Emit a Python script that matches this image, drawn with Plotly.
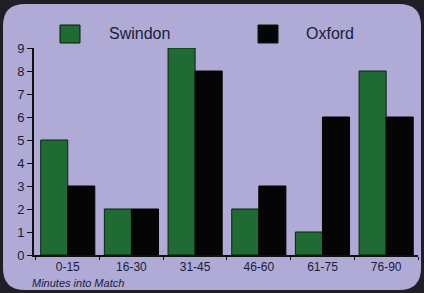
import plotly.graph_objects as go

categories = ["0-15", "16-30", "31-45", "46-60", "61-75", "76-90"]
swindon = [5, 2, 9, 2, 1, 8]
oxford = [3, 2, 8, 3, 6, 6]
y_ticks = list(range(0, 10))

W_PX, H_PX = 424, 293
L, R, T, B = 34, 6, 48, 38
PW = W_PX - L - R
PH = H_PX - T - B

def px(x):
    return (x - L) / PW

def py(y):
    return (H_PX - B - y) / PH

GREEN = "#1f6b33"
BLACK = "#050505"
TEXT = "#1b1c3a"
PANEL = "#afaad6"
DARK = "#211f26"

fig = go.Figure()
fig.add_trace(go.Bar(x=categories, y=swindon, name="Swindon",
                     marker=dict(color=GREEN, line=dict(color="#0b2410", width=1))))
fig.add_trace(go.Bar(x=categories, y=oxford, name="Oxford",
                     marker=dict(color=BLACK, line=dict(color=BLACK, width=1))))

# rounded panel
x0, x1, y0, y1, r = 3, 421, 4, 290, 22
path = (f"M {px(x0+r)},{py(y0)} L {px(x1-r)},{py(y0)} Q {px(x1)},{py(y0)} {px(x1)},{py(y0+r)} "
        f"L {px(x1)},{py(y1-r)} Q {px(x1)},{py(y1)} {px(x1-r)},{py(y1)} "
        f"L {px(x0+r)},{py(y1)} Q {px(x0)},{py(y1)} {px(x0)},{py(y1-r)} "
        f"L {px(x0)},{py(y0+r)} Q {px(x0)},{py(y0)} {px(x0+r)},{py(y0)} Z")
shapes = [dict(type="path", path=path, xref="paper", yref="paper",
               fillcolor=PANEL, line=dict(width=0), layer="below")]

# legend swatches
for (sx, col) in [(60, GREEN), (258, BLACK)]:
    shapes.append(dict(type="rect", xref="paper", yref="paper",
                       x0=px(sx), x1=px(sx + 20), y0=py(43), y1=py(25),
                       fillcolor=col, line=dict(color="#0b1a10", width=1)))

annotations = [
    dict(text="Swindon", x=px(107), y=py(34), xref="paper", yref="paper",
         xanchor="left", yanchor="middle", showarrow=False,
         font=dict(size=16, color=TEXT, family="Liberation Sans")),
    dict(text="Oxford", x=px(304), y=py(34), xref="paper", yref="paper",
         xanchor="left", yanchor="middle", showarrow=False,
         font=dict(size=16, color=TEXT, family="Liberation Sans")),
    dict(text="<i>Minutes into Match</i>", x=px(30), y=py(283), xref="paper", yref="paper",
         xanchor="left", yanchor="middle", showarrow=False,
         font=dict(size=11, color=TEXT, family="Liberation Sans")),
]

fig.update_layout(
    width=W_PX, height=H_PX,
    margin=dict(l=L, r=R, t=T, b=B, pad=0),
    paper_bgcolor=DARK, plot_bgcolor="rgba(0,0,0,0)",
    barmode="group", bargap=0.15, bargroupgap=0,
    showlegend=False,
    shapes=shapes, annotations=annotations,
    font=dict(family="Liberation Sans", color=TEXT, size=13),
    xaxis=dict(range=[-0.53, 5.5], showgrid=False, zeroline=False,
               showline=True, linecolor="#111111", linewidth=2,
               ticks="outside", tickson="boundaries", ticklen=3, tickcolor="#111111",
               tickfont=dict(size=12, color=TEXT)),
    yaxis=dict(range=[0, 9], tickvals=y_ticks, showgrid=False, zeroline=False,
               showline=True, linecolor="#111111", linewidth=2,
               ticks="outside", ticklen=5, tickcolor="#111111",
               tickfont=dict(size=13, color=TEXT)),
)

fig.write_html("out.html", config={"displayModeBar": False},
               post_script="document.body.style.margin='0';document.body.style.background='#211f26';")
